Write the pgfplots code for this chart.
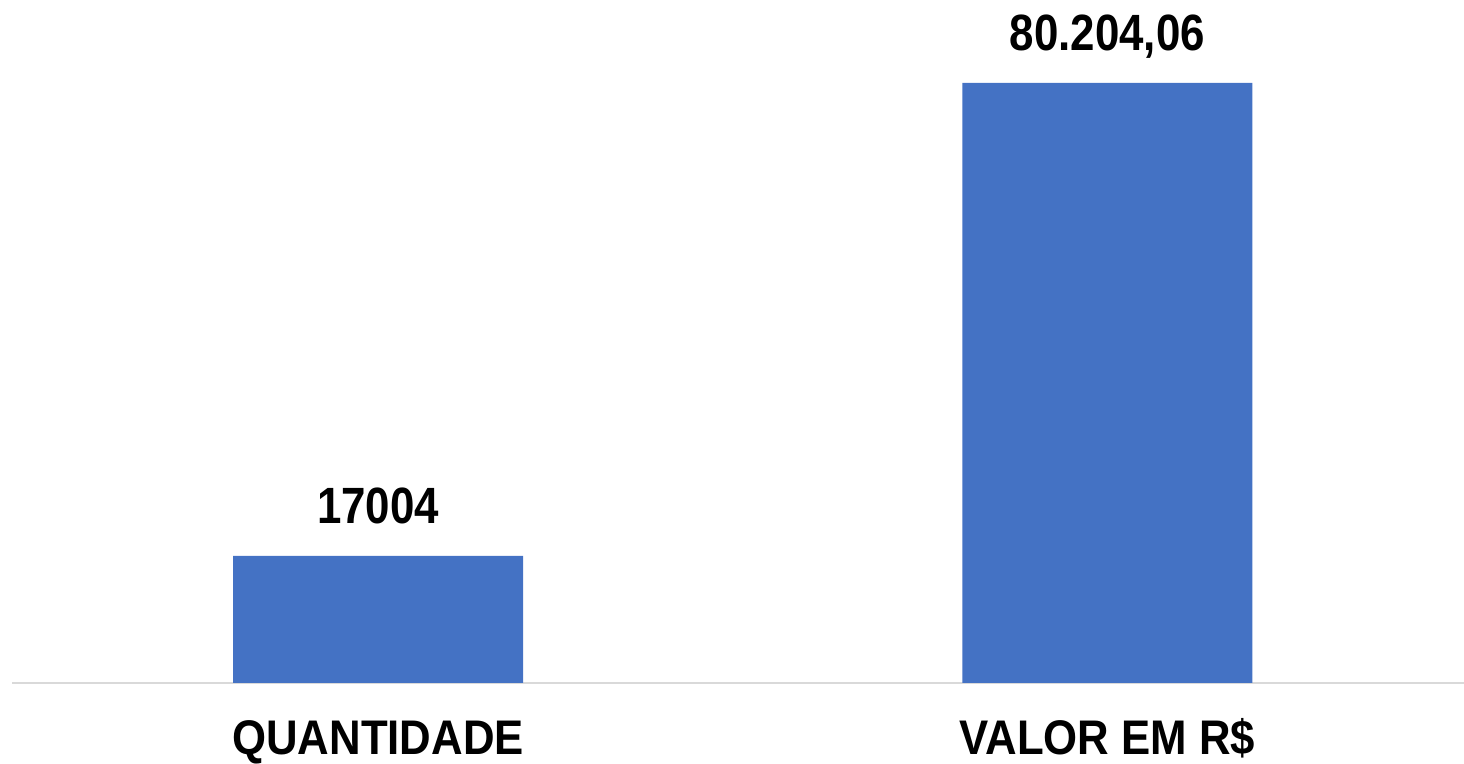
\documentclass[border=0pt]{standalone}
\usepackage{fontspec}
\setmainfont[FakeStretch=0.86]{Liberation Sans}
\newfontfamily\catfont[FakeStretch=0.9]{Liberation Sans}
\usepackage{pgfplots}
\pgfplotsset{compat=1.18}
\definecolor{barblue}{HTML}{4472C4}
\definecolor{basegray}{HTML}{D9D9D9}

\begin{document}
\begin{tikzpicture}
\begin{axis}[
    at={(6pt,40.5pt)}, anchor=south west,
    scale only axis,
    width=726pt, height=341.5pt,
    ybar, bar width=0.3975,
    xmin=-0.502, xmax=1.489,
    ymin=0, ymax=91299,
    axis x line*=bottom,
    axis y line=none,
    x axis line style={draw=basegray, line width=1pt, -},
    xtick=data,
    xticklabels={QUANTIDADE, VALOR EM R\$},
    major tick length=0pt,
    xticklabel style={anchor=base, yshift=-36pt, inner sep=0pt, font=\catfont\fontsize{24.3}{26}\selectfont\bfseries},
    point meta=explicit symbolic,
    nodes near coords,
    nodes near coords style={anchor=south, inner sep=0pt, yshift=16pt, text depth=0pt, font=\fontsize{25.5}{28}\selectfont\bfseries, text=black},
]
\addplot[fill=barblue, draw=none] coordinates {(0,17004) [17004] (1,80204.06) [80.204,06]};
\end{axis}
\pgfresetboundingbox
\path (0,0) rectangle (732pt,382pt);
\end{tikzpicture}
\end{document}
